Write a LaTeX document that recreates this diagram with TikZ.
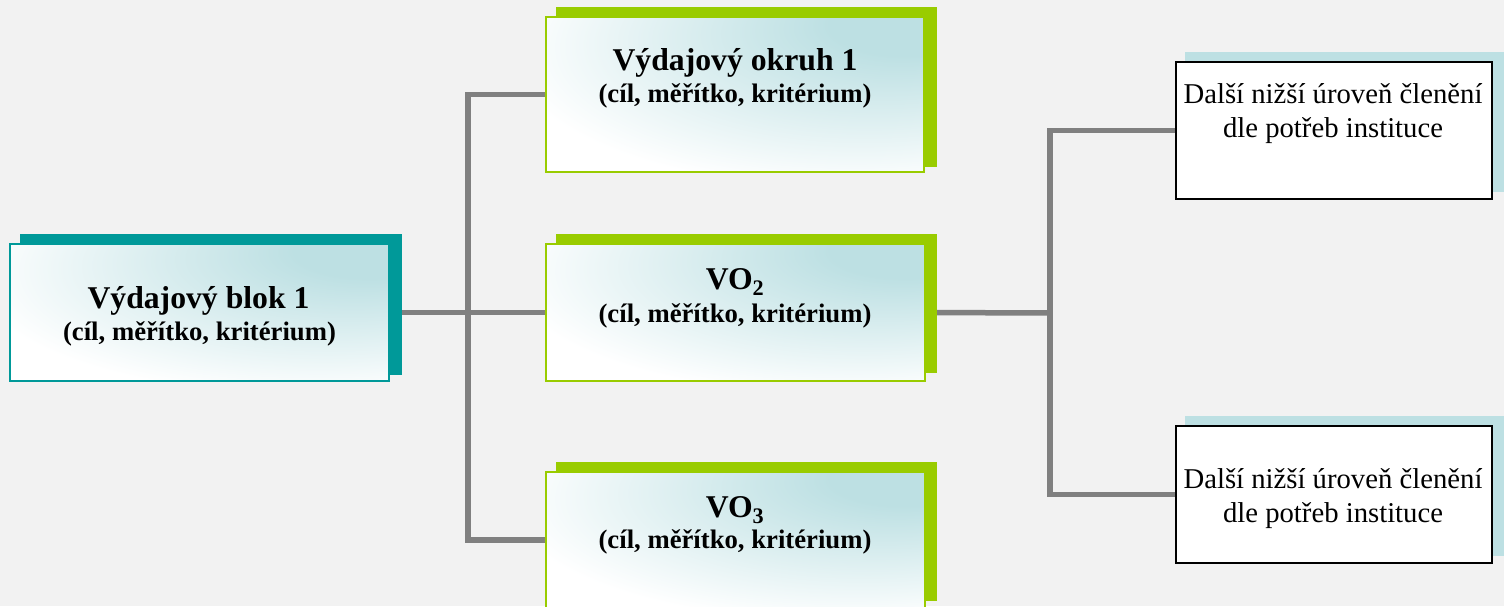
\documentclass[tikz,border=0pt]{standalone}
\usepackage{fontspec}
\setmainfont{Liberation Serif}
\usetikzlibrary{backgrounds}
\definecolor{bgc}{HTML}{F2F2F2}
\definecolor{tealc}{HTML}{009999}
\definecolor{greenc}{HTML}{99CC00}
\definecolor{lteal}{HTML}{BDE0E3}
\definecolor{linec}{HTML}{808080}
\pgfdeclareradialshading{cornerglow}{\pgfpoint{25bp}{25bp}}{%
  color(0bp)=(lteal); color(10bp)=(lteal); color(44bp)=(white); color(100bp)=(white)}
\tikzset{
  shadowbox/.style={fill=#1, draw=none},
  frontbox/.style={rectangle, inner sep=0pt, outer sep=0pt, draw=#1, line width=1.5pt,
     shading=cornerglow},
  plainbox/.style={rectangle, inner sep=0pt, outer sep=0pt, draw=black, line width=1.5pt, fill=white},
  bigt/.style={anchor=base, inner sep=0pt, font=\fontsize{31.7}{36}\selectfont\bfseries},
  smt/.style={anchor=base, inner sep=0pt, font=\fontsize{26.7}{30}\selectfont\bfseries},
  rt/.style={anchor=base, inner sep=0pt, font=\fontsize{28.7}{32}\selectfont},
  conn/.style={draw=linec, line width=5.5pt, line join=miter},
}
\begin{document}
\begin{tikzpicture}[x=1pt, y=-1pt]
\useasboundingbox (0,0) rectangle (1504,606);
\clip (0,0) rectangle (1504,606);

% front boxes
\node[frontbox=tealc, shade, minimum width=379pt, minimum height=137pt] (b1) at (199.5,312.5) {};
\node[frontbox=greenc, shade, minimum width=378pt, minimum height=155pt] (vo1) at (735,94.5) {};
\node[frontbox=greenc, shade, minimum width=379pt, minimum height=137pt] (vo2) at (735.5,312.5) {};
\node[frontbox=greenc, shade, minimum width=379pt, minimum height=136pt] (vo3) at (735.5,540) {};
\node[plainbox, minimum width=316pt, minimum height=137pt] (r1) at (1334,130.5) {};
\node[plainbox, minimum width=316pt, minimum height=137pt] (r2) at (1334,494.5) {};

\begin{scope}[on background layer]
\fill[bgc] (0,0) rectangle (1504,606);
% connectors
\coordinate (jL) at (468,313);
\coordinate (jR) at (1050,313);
\draw[conn] (b1.east) -- (vo2.west);
\draw[conn] (vo1.west) -| (jL) |- (vo3.west);
\draw[conn] (vo2.east) -- (jR);
\draw[conn] (r1.west) -| (jR) |- (r2.west);
% shadows
\fill[shadowbox=tealc] (20,234) rectangle (402,375);
\fill[shadowbox=greenc] (556,7) rectangle (937,167);
\fill[shadowbox=greenc] (556,234) rectangle (937,373);
\fill[shadowbox=greenc] (556,462) rectangle (937,601);
\fill[shadowbox=lteal] (1185,52) rectangle (1510,192);
\fill[shadowbox=lteal] (1185,416) rectangle (1510,556);
\end{scope}

% texts
\node[bigt] (t1a) at (198.5,308) {Výdajový blok 1};
\node[smt] (t1b) at (199.5,340) {(cíl, měřítko, kritérium)};
\node[bigt] (t2a) at (735,70) {Výdajový okruh 1};
\node[smt] (t2b) at (735,102) {(cíl, měřítko, kritérium)};
\node[bigt] (t3a) at (735,289) {VO\textsubscript{2}};
\node[smt] (t3b) at (735,322) {(cíl, měřítko, kritérium)};
\node[bigt] (t4a) at (735,517) {VO\textsubscript{3}};
\node[smt] (t4b) at (735,548) {(cíl, měřítko, kritérium)};
\node[rt] (t5a) at (1333,103) {Další nižší úroveň členění};
\node[rt] (t5b) at (1333,137) {dle potřeb instituce};
\node[rt] (t6a) at (1333,488) {Další nižší úroveň členění};
\node[rt] (t6b) at (1333,522) {dle potřeb instituce};
\end{tikzpicture}
\end{document}
